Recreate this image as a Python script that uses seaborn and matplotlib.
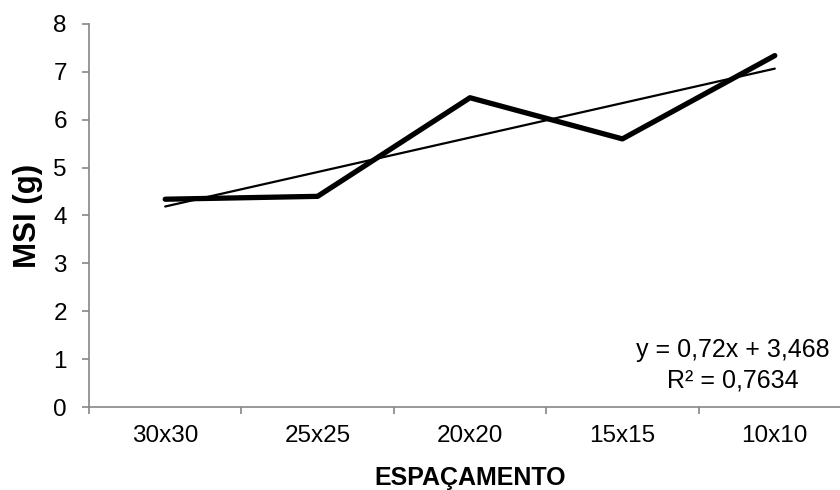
import numpy as np
import matplotlib
matplotlib.use('Agg')
import matplotlib.pyplot as plt
import seaborn as sns

# data
espacamento = ['30x30', '25x25', '20x20', '15x15', '10x10']
msi = [4.34, 4.40, 6.46, 5.60, 7.34]
eq_text = 'y = 0,72x + 3,468\nR² = 0,7634'

sns.set_style('white')
plt.rcParams['font.family'] = ['Liberation Sans', 'DejaVu Sans']
plt.rcParams['text.color'] = 'black'
plt.rcParams['axes.labelcolor'] = 'black'

fig = plt.figure(figsize=(8.4, 4.9), dpi=100)
# axes run a bit past the right edge, like the cropped Excel chart
ax = fig.add_axes([89 / 840, 83 / 490, 762 / 840, 383 / 490])

xpos = np.arange(len(msi))

# trendline (linear fit) and the data line
sns.regplot(x=xpos, y=msi, scatter=False, ci=None, truncate=True,
            color='black', line_kws={'linewidth': 1.6}, ax=ax)
sns.lineplot(x=xpos, y=msi, color='black', linewidth=3.8,
             solid_capstyle='round', ax=ax)

ax.set_xlim(-0.5, len(msi) - 0.5)
ax.set_ylim(0, 8)

# spines
grey = '#868686'
for side in ['top', 'right']:
    ax.spines[side].set_visible(False)
for side in ['left', 'bottom']:
    ax.spines[side].set_color(grey)
    ax.spines[side].set_linewidth(1.2)

# y ticks
ax.set_yticks(range(0, 9))
ax.tick_params(axis='y', direction='out', length=5, width=1.2, color=grey,
               labelcolor='black', labelsize=17.5, pad=11, left=True)

# x: tick marks on category boundaries, labels at the centres
ax.set_xticks(np.arange(-0.5, len(msi), 1.0))
ax.set_xticklabels([])
ax.tick_params(axis='x', which='major', direction='out', length=5, width=1.2,
               color=grey, bottom=True)
ax.set_xticks(xpos, minor=True)
ax.set_xticklabels(espacamento, minor=True)
ax.tick_params(axis='x', which='minor', length=0, labelsize=17.5, pad=13,
               labelcolor='black')

ax.set_xlabel('ESPAÇAMENTO', fontsize=18, fontweight='bold')
ax.set_ylabel('MSI (g)', fontsize=22.5, fontweight='bold')
ax.xaxis.set_label_coords((470 - 89) / 762, -(466 - 407) / 383)
ax.yaxis.set_label_coords(-(89 - 43) / 762, 0.5)

fig.text(733 / 840, 1 - 365 / 490, eq_text, ha='center', va='center',
         fontsize=18, linespacing=1.35)

fig.savefig('out.png', dpi=100)
